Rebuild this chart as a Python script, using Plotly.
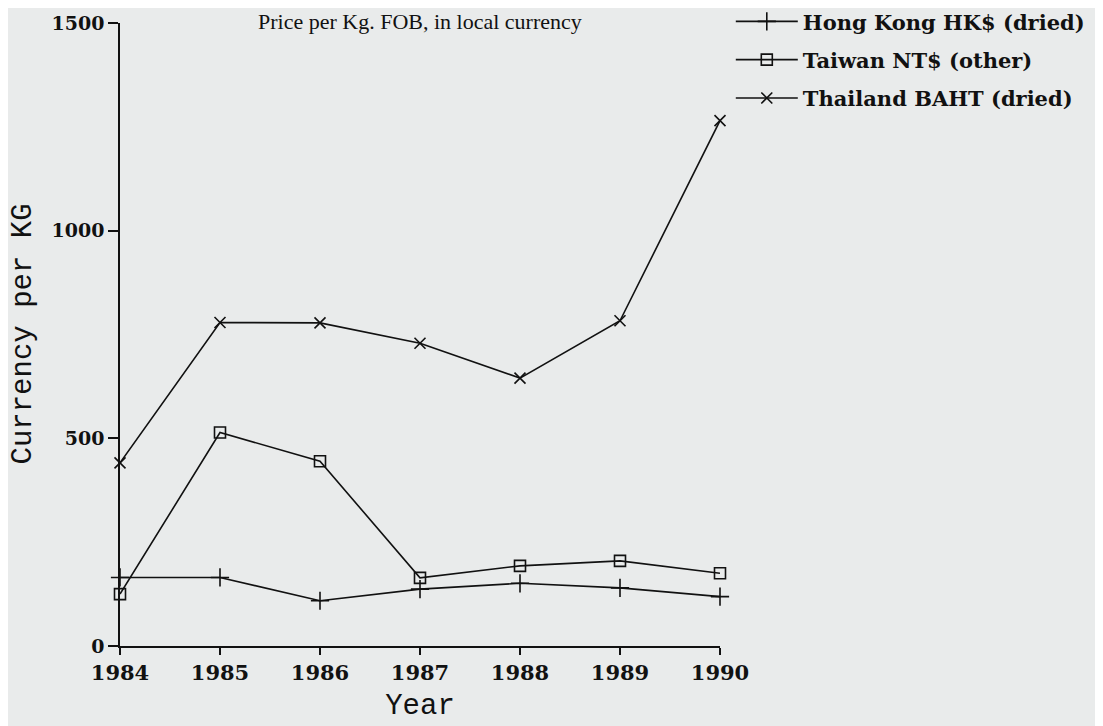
import plotly.graph_objects as go

years = [1984, 1985, 1986, 1987, 1988, 1989, 1990]
hong_kong = [165, 165, 109, 137, 151, 140, 119]
taiwan = [125, 514, 445, 164, 193, 205, 175]
thailand = [441, 779, 778, 729, 645, 783, 1265]

series = [
    ("Hong Kong HK$ (dried)", hong_kong, "cross-thin-open", 13),
    ("Taiwan NT$ (other)", taiwan, "square-open", 11),
    ("Thailand BAHT (dried)", thailand, "x-thin-open", 11),
]

fig = go.Figure()
for i, (name, vals, sym, size) in enumerate(series):
    fig.add_trace(go.Scatter(
        x=years, y=vals, name=name, mode="lines+markers",
        line=dict(color="#111111", width=1.6),
        marker=dict(symbol=sym, size=size, color="#111111",
                    line=dict(color="#111111", width=1.6)),
        cliponaxis=False, legendgroup=f"g{i}",
    ))

bg = "#e9ebeb"
# plot area: x 112..712, y 15..638 (page adds an 8px body margin)
fig.update_layout(
    width=1103, height=726,
    paper_bgcolor=bg, plot_bgcolor=bg,
    margin=dict(l=112, r=391, t=15, b=88, autoexpand=False),
    font=dict(family="DejaVu Serif", color="#111111"),
    showlegend=True,
    legend=dict(x=1.018, y=1.035, xanchor="left", yanchor="top",
                bgcolor="rgba(0,0,0,0)", tracegroupgap=8,
                traceorder="grouped",
                font=dict(family="DejaVu Serif", size=21, weight="bold"),
                itemwidth=62),
    xaxis=dict(range=[1984, 1990], tickvals=years, ticktext=[str(y) for y in years],
               showgrid=False, zeroline=False, showline=True, linecolor="#111111",
               linewidth=1.6, ticks="outside", ticklen=7, tickcolor="#111111",
               tickwidth=1.5,
               tickfont=dict(family="DejaVu Serif", size=21, weight="bold"),
               title=dict(text="Year", font=dict(family="Liberation Mono", size=29),
                          standoff=10)),
    yaxis=dict(range=[0, 1500], tickvals=[0, 500, 1000, 1500],
               showgrid=False, zeroline=False, showline=True, linecolor="#111111",
               linewidth=1.6, ticks="outside", ticklen=10, tickcolor="#111111",
               tickwidth=1.5,
               tickfont=dict(family="DejaVu Serif", size=19, weight="bold")),
)
fig.add_annotation(text="Currency per KG", xref="paper", yref="paper",
                   x=0, y=0.5, xshift=-97, xanchor="center", yanchor="middle",
                   textangle=-90, showarrow=False,
                   font=dict(family="Liberation Mono", size=29, color="#111111"))
fig.add_annotation(text="Price per Kg. FOB, in local currency",
                   xref="paper", yref="paper", x=0.5, y=1 + 16 / 623,
                   xanchor="center", yanchor="top", showarrow=False,
                   font=dict(family="Liberation Serif", size=22, color="#111111"))

fig.write_html("out.html")
